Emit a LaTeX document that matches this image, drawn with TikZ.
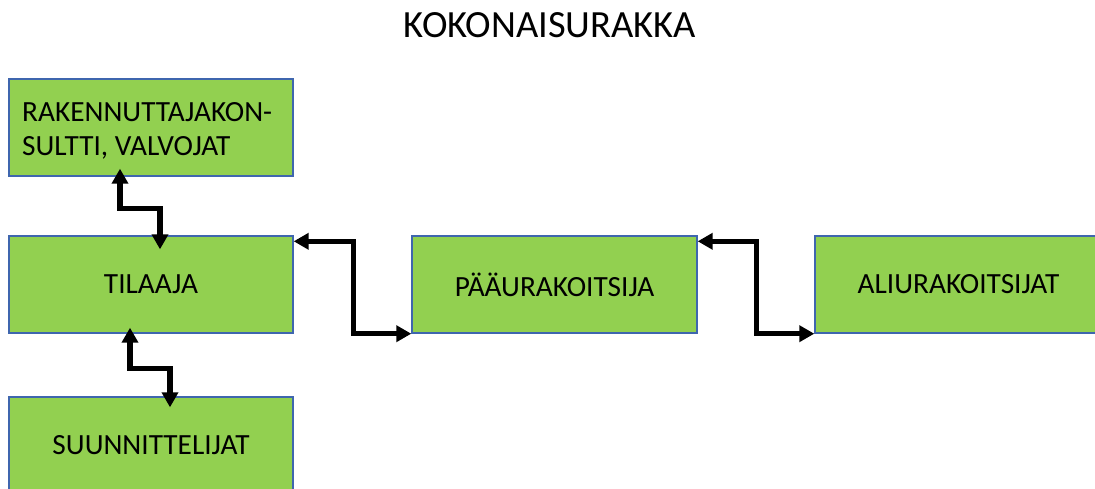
\documentclass[tikz,border=0pt]{standalone}
\usepackage{fontspec}
\setmainfont{Carlito}
\usetikzlibrary{arrows.meta,calc}
\definecolor{boxgreen}{HTML}{92D050}
\definecolor{boxblue}{HTML}{3F66AE}
\begin{document}
\begin{tikzpicture}[x=1pt,y=-1pt,
  box/.style={draw=boxblue,line width=1.4pt,fill=boxgreen,inner sep=0pt,
    minimum height=97pt,text=black,font=\fontsize{29.3}{34}\selectfont},
  conn/.style={line width=5.5pt,{Triangle[length=15pt,width=16pt]}-{Triangle[length=15pt,width=16pt]}}]
\useasboundingbox (0,0) rectangle (1095,488);
\fill[white] (0,0) rectangle (1095,488);
\node[font=\fontsize{38.5}{42}\selectfont,anchor=base] (title) at (550,37) {KOKONAISURAKKA};
\node[box,minimum width=284pt] (r) at (151,127.5) {};
\node[anchor=west,align=left,font=\fontsize{29.3}{34}\selectfont,inner sep=0pt] (rt) at (22,131) {RAKENNUTTAJAKON-\\SULTTI, VALVOJAT};
\node[box,minimum width=284pt] (t) at (151,284.5) {TILAAJA};
\node[box,minimum width=284pt] (s) at (151,445.5) {SUUNNITTELIJAT};
\node[box,minimum width=285pt] (p) at (554.5,284.5) {PÄÄURAKOITSIJA};
\node[box,minimum width=287pt] (a) at (958.5,284.5) {ALIURAKOITSIJAT};
\draw[conn] ([xshift=-31pt,yshift=8pt]r.south) -- ++(0,40) -| ([xshift=9pt,yshift=-14pt]t.north);
\draw[conn] ([xshift=-21pt,yshift=6pt]t.south) -- ++(0,41) -| ([xshift=19pt,yshift=-11pt]s.north);
\draw[conn] ([yshift=-6pt]t.north east) -- ++(60,0) |- (p.south west);
\draw[conn] ([yshift=-6pt]p.north east) -- ++(59,0) |- (a.south west);
\end{tikzpicture}
\end{document}
